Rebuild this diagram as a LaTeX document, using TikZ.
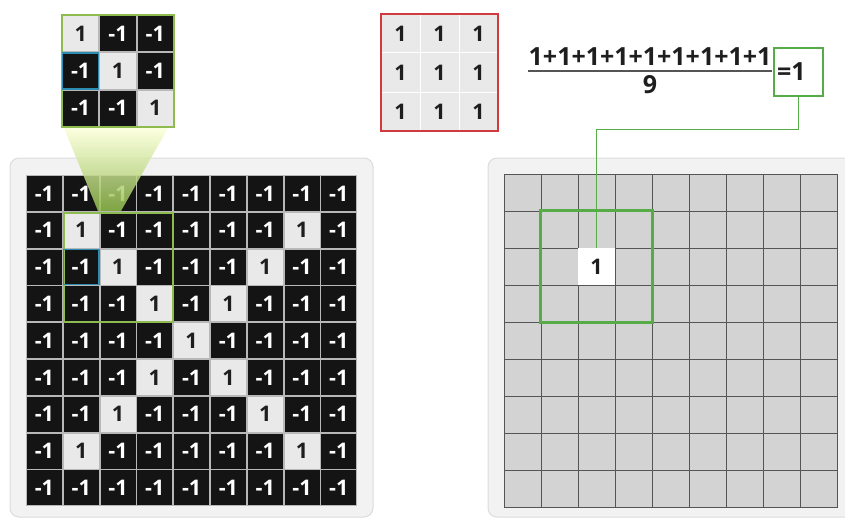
\documentclass[tikz,border=0pt]{standalone}
\usepackage{fontspec}
\setmainfont{Open Sans}
\usepackage{xcolor}

\definecolor{cellblack}{HTML}{141414}
\definecolor{celllight}{HTML}{E9E9E9}
\definecolor{gapgray}{HTML}{B8B8B8}
\definecolor{panelgray}{HTML}{F2F2F2}
\definecolor{panelline}{HTML}{DCDCDC}
\definecolor{outcell}{HTML}{D3D3D3}
\definecolor{outline}{HTML}{555555}
\definecolor{boxgreen}{HTML}{8DBB50}
\definecolor{resgreen}{HTML}{58AC48}
\definecolor{selblue}{HTML}{2D8DB0}
\definecolor{kernred}{HTML}{D13A3F}
\definecolor{ink}{HTML}{1E1E1E}

\tikzset{
  cellnum/.style={font=\bfseries\fontsize{21.5}{22}\selectfont},
  sumnum/.style={font=\bfseries\fontsize{25}{26}\selectfont, text=ink},
  negcell/.style={cellnum, fill=cellblack, text=white, minimum size=35, inner sep=0},
  poscell/.style={cellnum, fill=celllight, text=ink, minimum size=35, inner sep=0},
  kcell/.style={cellnum, fill=celllight, draw=white, line width=1, text=ink, minimum size=39, inner sep=0},
  ocell/.style={fill=outcell, draw=outline, line width=1, minimum size=37, inner sep=0},
  panel/.style={fill=panelgray, draw=panelline, line width=1, rounded corners=9},
}

\begin{document}
\begin{tikzpicture}[x=1pt, y=-1pt]
\useasboundingbox (0,0) rectangle (845,519);

% input image
\draw[panel] (10,158) rectangle (373,517);
\fill[gapgray] (26,175) rectangle (357,506);
\foreach \r in {0,...,8}
  \foreach \c in {0,...,8} {
    \pgfmathtruncatemacro\v{and(and(\r>0,\r<8),or(\r==\c,\r+\c==8))}
    \ifnum\v=1
      \node[poscell] (in-\r-\c) at ({26+(\c+0.5)*36.8},{175+(\r+0.5)*36.8}) {1};
    \else
      \node[negcell] (in-\r-\c) at ({26+(\c+0.5)*36.8},{175+(\r+0.5)*36.8}) {-1};
    \fi
  }

% funnel from patch to zoom
\shade[top color=green!10!yellow!15, bottom color=boxgreen!95!yellow, opacity=0.85]
  (64,128) -- (168,128) -- (121,211) -- (98,211) -- cycle;

\draw[boxgreen, line width=2] (in-1-1.north west) rectangle (in-3-3.south east);
\draw[selblue, line width=1.5] (in-2-1.north west) rectangle (in-2-1.south east);

% zoomed patch
\fill[gapgray] (62,15) rectangle (174,127);
\foreach \r in {0,1,2}
  \foreach \c in {0,1,2} {
    \ifnum\r=\c
      \node[poscell, minimum size=35.5] (zm-\r-\c) at ({62+(\c+0.5)*37.3},{15+(\r+0.5)*37.3}) {1};
    \else
      \node[negcell, minimum size=35.5] (zm-\r-\c) at ({62+(\c+0.5)*37.3},{15+(\r+0.5)*37.3}) {-1};
    \fi
  }
\draw[boxgreen, line width=2] (62,15) rectangle (174,127);
\draw[selblue, line width=1.5] (zm-1-0.north west) rectangle (zm-1-0.south east);

% kernel
\foreach \r in {0,1,2}
  \foreach \c in {0,1,2}
    \node[kcell] (k-\r-\c) at ({381+(\c+0.5)*39},{14+(\r+0.5)*39}) {1};
\draw[kernred, line width=2] (381,14) rectangle (498,131);

% sum
\node[sumnum, inner sep=0] (num) at (650,57) {1+1+1+1+1+1+1+1+1};
\draw[outline, line width=1.5] (528,71) -- (772,71);
\node[sumnum, inner sep=0] (den) at (650,85) {9};
\node[sumnum, draw=resgreen, line width=2, minimum height=48, text width=43, inner xsep=3, align=left]
  (eqbox) at (798.5,72) {=1};

% output image
\draw[panel] (488,158) rectangle (870,517);
\foreach \r in {0,...,8}
  \foreach \c in {0,...,8}
    \node[ocell] (out-\r-\c) at ({504+(\c+0.5)*37},{174+(\r+0.5)*37}) {};
\node[ocell, cellnum, fill=white, draw=none, text=ink] (res) at (out-2-2) {1};
\draw[resgreen, line width=2.5] (out-1-1.north west) rectangle (out-3-3.south east);
\draw[resgreen, line width=1.5] (res.north) -- ++(0,-118) -| (eqbox.south);

\end{tikzpicture}
\end{document}
